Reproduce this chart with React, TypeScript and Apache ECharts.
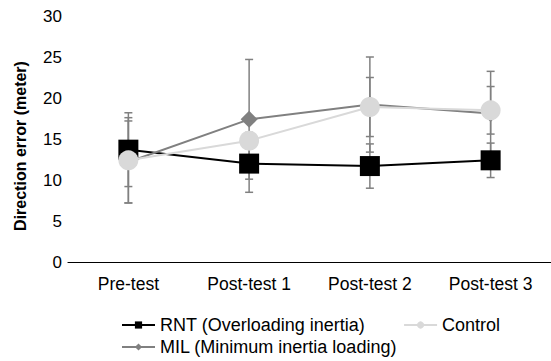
import React, { useEffect, useRef } from "react";
import * as echarts from "echarts";

const categories = ["Pre-test", "Post-test 1", "Post-test 2", "Post-test 3"];
const yTicks = [0, 5, 10, 15, 20, 25, 30];

const rntMean = [13.7, 12.0, 11.7, 12.4];
const rntSd = [4.5, 3.5, 2.7, 2.1];
const milMean = [12.2, 17.4, 19.2, 18.1];
const milSd = [5.0, 7.3, 5.8, 5.15];
const ctlMean = [12.4, 14.8, 18.9, 18.5];
const ctlSd = [5.2, 1.0, 3.6, 2.9];

const seriesNames = [
  "RNT (Overloading inertia)",
  "MIL (Minimum inertia loading)",
  "Control",
];
const yTitle = "Direction error (meter)";

function errorData(mean: number[], sd: number[]) {
  return mean.map((m, i) => [i, m - sd[i], m + sd[i]]);
}

function errorSeries(mean: number[], sd: number[]) {
  return {
    type: "custom",
    z: 1,
    silent: true,
    data: errorData(mean, sd),
    encode: { x: 0, y: [1, 2] },
    renderItem: (params: any, api: any) => {
      const x = api.value(0);
      const lo = api.coord([x, api.value(1)]);
      const hi = api.coord([x, api.value(2)]);
      const hw = 4;
      const style = { stroke: "#808080", lineWidth: 1.5 };
      return {
        type: "group",
        children: [
          { type: "line", shape: { x1: lo[0], y1: lo[1], x2: hi[0], y2: hi[1] }, style },
          { type: "line", shape: { x1: lo[0] - hw, y1: lo[1], x2: lo[0] + hw, y2: lo[1] }, style },
          { type: "line", shape: { x1: hi[0] - hw, y1: hi[1], x2: hi[0] + hw, y2: hi[1] }, style },
        ],
      };
    },
  };
}

export default function App() {
  const ref = useRef<HTMLDivElement>(null);
  useEffect(() => {
    if (!ref.current) return;
    const chart = echarts.init(ref.current, undefined, { renderer: "svg" });
    const font = "Liberation Sans, Arial, sans-serif";
    const legendText = { fontSize: 18, color: "#000", fontFamily: font };
    chart.setOption({
      animation: false,
      textStyle: { fontFamily: font },
      grid: { left: 68, width: 484, top: 16, height: 246 },
      legend: [
        {
          data: [seriesNames[0], seriesNames[2]],
          left: 116,
          top: 311,
          itemWidth: 33,
          itemHeight: 9,
          itemGap: 38,
          textStyle: legendText,
        },
        {
          data: [seriesNames[1]],
          left: 116,
          top: 333,
          itemWidth: 33,
          itemHeight: 9,
          textStyle: legendText,
        },
      ],
      graphic: [
        {
          type: "text",
          x: 20,
          y: 146,
          rotation: Math.PI / 2,
          style: {
            text: yTitle,
            fontSize: 16,
            fontWeight: "bold",
            fill: "#000",
            fontFamily: font,
            align: "center",
            verticalAlign: "middle",
          },
        },
      ],
      xAxis: {
        type: "category",
        data: categories,
        axisLine: { lineStyle: { color: "#000", width: 1.2 } },
        axisTick: { show: false },
        axisLabel: { fontSize: 17.5, color: "#000", margin: 13, fontFamily: font },
      },
      yAxis: {
        type: "value",
        min: yTicks[0],
        max: yTicks[yTicks.length - 1],
        interval: 5,
        axisLine: { show: false },
        axisTick: { show: false },
        splitLine: { show: false },
        axisLabel: { fontSize: 17, color: "#000", margin: 6, fontFamily: font },
      },
      series: [
        errorSeries(rntMean, rntSd),
        errorSeries(milMean, milSd),
        errorSeries(ctlMean, ctlSd),
        {
          name: seriesNames[0],
          type: "line",
          z: 3,
          data: rntMean,
          symbol: "rect",
          symbolSize: 20,
          lineStyle: { color: "#000", width: 2 },
          itemStyle: { color: "#000" },
        },
        {
          name: seriesNames[1],
          type: "line",
          z: 4,
          data: milMean,
          symbol: "diamond",
          symbolSize: 17,
          lineStyle: { color: "#808080", width: 2 },
          itemStyle: { color: "#808080" },
        },
        {
          name: seriesNames[2],
          type: "line",
          z: 5,
          data: ctlMean,
          symbol: "circle",
          symbolSize: 20,
          lineStyle: { color: "#d9d9d9", width: 2 },
          itemStyle: { color: "#d9d9d9" },
        },
      ],
    });
    return () => chart.dispose();
  }, []);
  return <div ref={ref} style={{ width: 551, height: 361, position: "absolute", left: 0, top: 0 }} />;
}
